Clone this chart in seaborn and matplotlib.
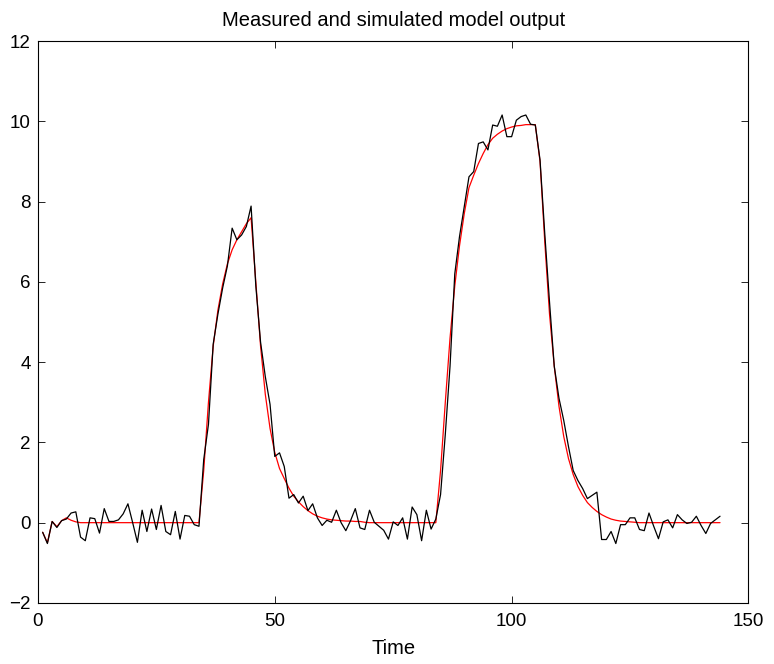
import matplotlib
matplotlib.use("Agg")
import numpy as np
import pandas as pd
import matplotlib.pyplot as plt
import seaborn as sns

# 采样时刻
time = list(range(1, 145))

# 实测输出 (黑线)
measured = [
    -0.24, -0.52, 0.03, -0.12, 0.05, 0.09, 0.24, 0.27, -0.36, -0.45,
    0.12, 0.10, -0.26, 0.35, 0.03, 0.03, 0.07, 0.22, 0.47, 0.00,
    -0.49, 0.31, -0.22, 0.34, -0.17, 0.43, -0.22, -0.30, 0.28, -0.41,
    0.18, 0.16, -0.05, -0.09, 1.57, 2.45, 4.45, 5.20, 5.85, 6.40,
    7.34, 7.05, 7.17, 7.38, 7.89, 5.90, 4.50, 3.64, 2.95, 1.65,
    1.74, 1.40, 0.61, 0.70, 0.49, 0.66, 0.30, 0.47, 0.12, -0.07,
    0.06, 0.01, 0.31, 0.00, -0.20, 0.05, 0.35, -0.13, -0.17, 0.31,
    0.01, -0.09, -0.19, -0.41, 0.02, -0.07, 0.12, -0.41, 0.39, 0.20,
    -0.45, 0.31, -0.16, 0.09, 0.70, 2.20, 3.90, 6.20, 7.13, 7.88,
    8.62, 8.75, 9.45, 9.49, 9.29, 9.91, 9.88, 10.16, 9.62, 9.62,
    10.03, 10.12, 10.16, 9.93, 9.91, 9.04, 7.20, 5.50, 3.90, 3.10,
    2.55, 1.90, 1.30, 1.05, 0.85, 0.60, 0.68, 0.76, -0.42, -0.42,
    -0.22, -0.52, -0.05, -0.05, 0.12, 0.12, -0.17, -0.20, 0.24, -0.09,
    -0.40, 0.02, 0.07, -0.13, 0.20, 0.07, -0.02, 0.01, 0.16, -0.07,
    -0.27, -0.02, 0.07, 0.16,
]

# 模型仿真输出 (红线)
simulated = [
    -0.24, -0.50, 0.03, -0.10, 0.05, 0.12, 0.06, 0.02, 0.0, 0.0,
    0.0, 0.0, 0.0, 0.0, 0.0, 0.0, 0.0, 0.0, 0.0, 0.0,
    0.0, 0.0, 0.0, 0.0, 0.0, 0.0, 0.0, 0.0, 0.0, 0.0,
    0.0, 0.0, 0.0, 0.0, 1.30, 3.00, 4.40, 5.30, 5.95, 6.45,
    6.80, 7.05, 7.25, 7.45, 7.60, 6.00, 4.40, 3.20, 2.35, 1.75,
    1.35, 1.10, 0.86, 0.66, 0.52, 0.40, 0.30, 0.22, 0.16, 0.12,
    0.09, 0.07, 0.06, 0.05, 0.04, 0.04, 0.03, 0.03, 0.01, 0.0,
    0.0, 0.0, 0.0, 0.0, 0.0, 0.0, 0.0, 0.0, 0.0, 0.0,
    0.0, 0.0, 0.0, 0.0, 1.30, 3.00, 4.60, 5.90, 6.90, 7.70,
    8.35, 8.66, 8.95, 9.20, 9.42, 9.58, 9.68, 9.76, 9.82, 9.86,
    9.89, 9.90, 9.92, 9.92, 9.92, 9.00, 7.00, 5.20, 3.90, 2.90,
    2.15, 1.60, 1.20, 0.90, 0.68, 0.50, 0.38, 0.28, 0.20, 0.14,
    0.09, 0.06, 0.04, 0.03, 0.02, 0.01, 0.0, 0.0, 0.0, 0.0,
    0.0, 0.0, 0.0, 0.0, 0.0, 0.0, 0.0, 0.0, 0.0, 0.0,
    0.0, 0.0, 0.0, 0.0,
]

x_ticks = [0, 50, 100, 150]
y_ticks = [-2, 0, 2, 4, 6, 8, 10, 12]

df = pd.DataFrame({"Time": time, "measured": measured, "simulated": simulated})

sns.set_style("ticks")
plt.rcParams['font.family'] = ['Liberation Sans', 'DejaVu Sans']
plt.rcParams['axes.unicode_minus'] = True
plt.rcParams['text.color'] = 'black'
plt.rcParams['axes.labelcolor'] = 'black'
plt.rcParams['xtick.color'] = 'black'
plt.rcParams['ytick.color'] = 'black'

fig = plt.figure(figsize=(7.74, 6.64), dpi=100)
ax = fig.add_axes([0.049, 0.092, 0.918, 0.846])

sns.lineplot(data=df, x="Time", y="simulated", color="red", linewidth=0.9, ax=ax)
sns.lineplot(data=df, x="Time", y="measured", color="black", linewidth=0.9, ax=ax)

ax.set_xlim(0, 150)
ax.set_ylim(-2, 12)
ax.set_xticks(x_ticks)
ax.set_yticks(y_ticks)
ax.tick_params(direction="in", length=5, width=0.6, labelsize=13.5,
               top=True, right=True, colors="black")
ax.tick_params(axis="x", pad=7)
ax.tick_params(axis="y", pad=5)
for s in ax.spines.values():
    s.set_linewidth(0.8)
    s.set_color("black")

ax.set_xlabel("Time", fontsize=14.5, labelpad=7, color="black")
ax.set_ylabel("")
ax.set_title("Measured and simulated model output", fontsize=14.5, pad=11,
             color="black")

fig.savefig("out.png", dpi=100)
